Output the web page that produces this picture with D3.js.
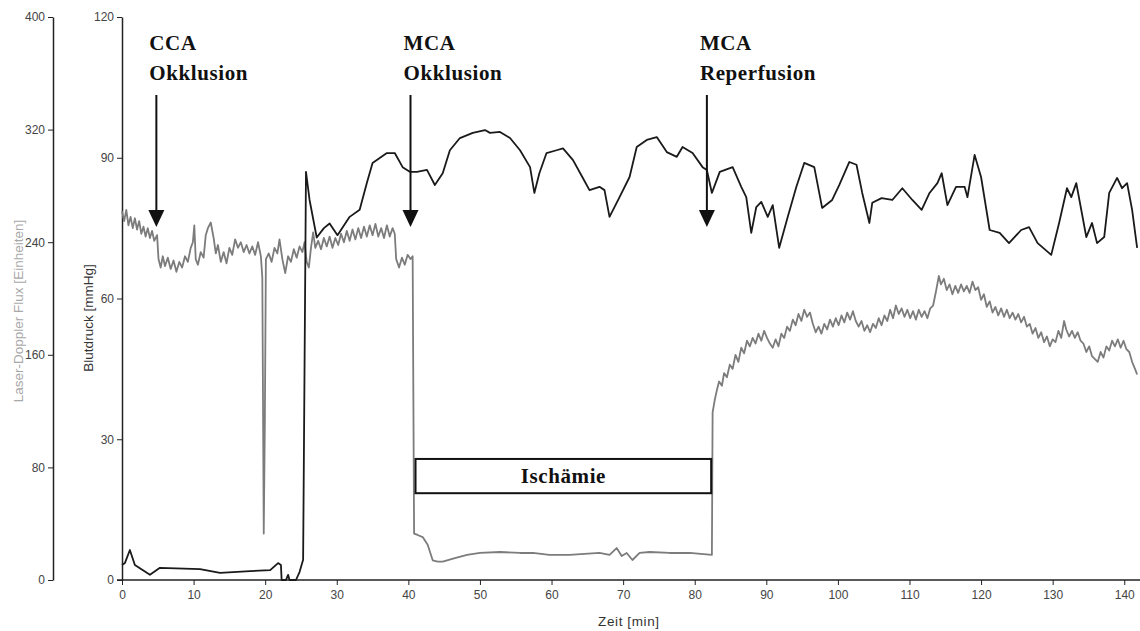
<!DOCTYPE html>
<html>
<head>
<meta charset="utf-8">
<script src="https://cdn.jsdelivr.net/npm/d3@7"></script>
<style>
  body { margin: 0; background: #fff; }
  .tick text { font-family: "Liberation Sans", Arial, sans-serif; font-size: 12px; fill: #444; }
  .anno { font-family: "Liberation Serif", "Times New Roman", serif; font-weight: bold; font-size: 21px; letter-spacing: 0.6px; fill: #111; }
  .title { font-family: "Liberation Sans", Arial, sans-serif; font-size: 13.5px; fill: #333; }
</style>
</head>
<body>
<div id="chart"></div>
<script>
const width = 1140;
const height = 631;
const margin = { top: 17, right: 0, bottom: 51, left: 122 };

// time in min, mean arterial blood pressure in mmHg (right axis)
const bpTime = [0, 0.4, 1.1, 1.8, 3.9, 5.3, 10.9, 13.7, 17.9, 20.7, 21.8, 22.2, 22.3, 22.9, 23.2, 23.4, 24.3, 24.8, 25.3,
  25.7, 26.2, 27.2, 28.2, 29.0, 30.1, 31.8, 33.2, 34.2, 35.0, 37.0, 38.1, 39.2, 40.2, 41.2, 42.6, 43.7, 44.8, 45.8, 47.2,
  49.0, 50.7, 51.4, 52.8, 54.2, 55.6, 57.0, 57.6, 58.3, 59.3, 60.7, 61.6, 63.0, 64.3, 65.3, 66.7, 67.4, 68.1, 69.5, 70.9,
  71.9, 73.3, 74.7, 76.1, 77.5, 78.3, 79.7, 81.1, 81.7, 82.4, 83.5, 85.3, 86.5, 87.2, 87.9, 88.6, 89.3, 90.2, 90.9, 91.8,
  93.0, 94.2, 95.3, 96.7, 97.8, 99.2, 100.2, 101.6, 102.6, 103.4, 104.4, 104.8, 106.1, 107.6, 109.0, 110.4, 111.7, 112.8,
  113.9, 114.5, 115.3, 116.5, 117.7, 118.1, 119.1, 120.0, 121.2, 122.6, 123.9, 125.6, 126.7, 127.9, 129.8, 130.9, 132.0,
  132.6, 133.3, 134.7, 135.5, 136.2, 137.2, 137.9, 139.0, 139.7, 140.4, 141.1, 141.8];
const bpValue = [3.2, 3.6, 6.4, 3.2, 1.1, 2.6, 2.3, 1.5, 1.9, 2.1, 3.6, 3.2, 0, 0, 1.1, 0, 0, 1.7, 4.3,
  87, 81, 73, 75, 76, 73.5, 77.4, 78.9, 84.6, 88.9, 91, 91, 88, 87, 87, 87.4, 84.2, 86.7, 91.6, 94.2,
  95.3, 95.9, 95.3, 95.5, 94.2, 91.6, 88, 82.5, 86.7, 91, 91.6, 92, 89.5, 85.9, 83.1, 83.8, 83.1, 77.4, 81.6, 85.9,
  92.3, 93.8, 94.4, 91.2, 90.2, 92.3, 91, 88, 87.4, 82.5, 87, 88, 83.8, 81.6, 74, 79.5, 80.6, 77.4, 79.9, 70.8,
  77.4, 83.8, 88.9, 88, 79.3, 81, 84.2, 89.1, 88.5, 82.5, 76.1, 80.4, 81.4, 81, 83.5, 81, 78.9, 82.5,
  84.6, 86.7, 79.9, 83.8, 83.8, 81.6, 90.6, 85.9, 74.6, 74, 71.8, 74.6, 75.2, 71.8, 69.3, 76.1, 83.5,
  81.6, 84.6, 73.1, 76.1, 71.8, 73.1, 82.5, 85.7, 83.5, 84.6, 78.9, 70.8];

// time in min, laser-Doppler flux in units (left axis)
const ldfTime = [0, 0.3, 0.6, 0.9, 1.2, 1.5, 1.8, 2.1, 2.4, 2.7, 3.0, 3.3, 3.6, 3.9, 4.2, 4.5, 4.9, 5.1, 5.4, 5.7,
  6.0, 6.4, 6.8, 7.2, 7.6, 8.0, 8.4, 8.8, 9.2, 9.6, 9.9, 10.1, 10.3, 10.6, 11.0, 11.4, 11.7, 12.0, 12.4, 12.8,
  13.1, 13.4, 13.8, 14.2, 14.6, 15.0, 15.4, 15.8, 16.2, 16.6, 17.0, 17.4, 17.8, 18.2, 18.6, 19.0, 19.4, 19.6, 19.8, 19.95,
  20.1, 20.5, 20.9, 21.3, 21.7, 22.0, 22.4, 22.8, 23.2, 23.6, 24.0, 24.4, 24.8, 25.2, 25.5, 25.8, 26.1, 26.4, 26.7, 27.0,
  27.4, 27.8, 28.2, 28.6, 29.0, 29.4, 29.8, 30.2, 30.6, 31.0, 31.4, 31.8, 32.2, 32.6, 33.0, 33.4, 33.8, 34.2, 34.6, 35.0,
  35.4, 35.8, 36.2, 36.6, 37.0, 37.4, 37.8, 38.1, 38.3, 38.7, 39.1, 39.5, 39.9, 40.3, 40.6,
  40.8, 41.3, 42.0, 42.7, 43.4, 44.1, 44.8, 46.5, 48.2, 50.0, 52.8, 55.6, 57.4, 59.7, 62.5, 66.7, 68.1, 69.1, 69.8,
  70.5, 71.3, 72.3, 73.7, 76.5, 79.3, 82.4,
  82.5, 82.8, 83.1, 83.4, 83.8, 84.1, 84.5, 84.9, 85.3, 85.7, 86.1, 86.5, 86.9, 87.3, 87.7, 88.1, 88.5, 88.9, 89.3, 89.7,
  90.1, 90.5, 90.9, 91.3, 91.7, 92.1, 92.5, 92.9, 93.3, 93.7, 94.1, 94.5, 94.9, 95.3, 95.7, 96.1, 96.5, 96.9, 97.3, 97.7,
  98.1, 98.5, 98.9, 99.3, 99.7, 100.1, 100.5, 100.9, 101.3, 101.7, 102.1, 102.5, 102.9, 103.3, 103.7, 104.1, 104.5, 104.9,
  105.3, 105.7, 106.1, 106.5, 106.9, 107.3, 107.7, 108.1, 108.5, 108.9, 109.3, 109.7, 110.1, 110.5, 110.9, 111.3, 111.7,
  112.1, 112.5, 112.9, 113.3, 113.7, 114.1, 114.4, 114.8, 115.2, 115.6, 116.0, 116.4, 116.8, 117.2, 117.6, 118.0, 118.4,
  118.8, 119.2, 119.6, 120.0, 120.4, 120.8, 121.2, 121.6, 122.0, 122.4, 122.8, 123.2, 123.6, 124.0, 124.4, 124.8, 125.2,
  125.6, 126.0, 126.4, 126.8, 127.2, 127.6, 128.0, 128.4, 128.8, 129.2, 129.6, 130.0, 130.4, 130.8, 131.2, 131.6, 131.9,
  132.3, 132.7, 133.1, 133.5, 133.9, 134.3, 134.7, 135.1, 135.5, 135.9, 136.3, 136.7, 137.1, 137.5, 137.9, 138.3, 138.7,
  139.1, 139.5, 139.9, 140.3, 140.7, 141.1, 141.5, 141.8];
const ldfValue = [262, 255, 263, 252, 258, 250, 257, 249, 255, 246, 251, 244, 250, 243, 248, 241, 245, 228, 222, 230,
  223, 229, 221, 227, 219, 226, 222, 230, 226, 236, 240, 252, 228, 224, 233, 229, 245, 250, 254, 243,
  232, 238, 226, 233, 225, 236, 231, 242, 236, 240, 233, 238, 232, 237, 231, 240, 230, 215, 33, 110,
  228, 232, 226, 236, 232, 242, 228, 218, 230, 226, 235, 229, 237, 233, 240, 226, 222, 236, 247, 236,
  241, 235, 243, 237, 244, 236, 243, 238, 246, 240, 248, 241, 249, 242, 250, 243, 251, 244, 252, 245,
  253, 244, 250, 243, 252, 244, 250, 246, 228, 222, 229, 224, 231, 228, 230,
  33, 32, 30.5, 25, 14, 13, 13, 15.6, 17.8, 19.2, 19.9, 19.2, 19.2, 17.8, 17.8, 19.2, 17.8, 22.7, 17,
  19.2, 14.2, 19.2, 19.9, 19.2, 19.2, 17.8,
  119, 128, 135, 141, 138, 147, 144, 153, 150, 160, 155, 165, 161, 170, 166, 172, 168, 175, 170, 177,
  172, 168, 165, 171, 166, 175, 172, 180, 177, 185, 181, 189, 184, 192, 187, 190, 182, 176, 180, 175,
  182, 178, 185, 180, 186, 181, 188, 183, 190, 185, 191, 184, 180, 184, 177, 181, 176, 182,
  179, 186, 181, 188, 184, 192, 186, 195, 189, 193, 187, 192, 186, 191, 185, 192, 187,
  191, 186, 193, 195, 205, 216, 210, 214, 206, 210, 203, 209, 204, 210, 205, 209, 204,
  212, 206, 208, 199, 203, 194, 198, 190, 194, 188, 193, 187, 192, 186, 190, 185, 189,
  183, 187, 180, 182, 175, 179, 172, 176, 169, 173, 166, 171, 169, 177, 172, 184, 178,
  173, 177, 172, 176, 170, 168, 162, 166, 159, 157, 155, 162, 158, 166, 163, 170, 166,
  171, 165, 170, 164, 162, 155, 150, 146];

const xTicks = d3.range(0, 141, 10);
const bpTicks = [0, 30, 60, 90, 120];
const ldfTicks = [0, 80, 160, 240, 320, 400];

const events = [
  { t: 4.8, lines: ['CCA', 'Okklusion'] },
  { t: 40.3, lines: ['MCA', 'Okklusion'] },
  { t: 81.7, lines: ['MCA', 'Reperfusion'] },
];
const ischemia = { start: 41.0, end: 82.3, top: 25.8, bottom: 18.5, label: 'Ischämie' };

const svg = d3.select('#chart')
  .append('svg')
  .attr('width', width)
  .attr('height', height);

const x = d3.scaleLinear().domain([0, 142.2]).range([margin.left, width - margin.right]);
const yBp = d3.scaleLinear().domain([0, 120]).range([height - margin.bottom, margin.top]);
const yLdf = d3.scaleLinear().domain([0, 400]).range([height - margin.bottom, margin.top]);

const xAxis = d3.axisBottom(x).tickValues(xTicks).tickSize(5).tickSizeOuter(0);
const bpAxis = d3.axisLeft(yBp).tickValues(bpTicks).tickSize(5).tickSizeOuter(0);
const ldfAxis = d3.axisLeft(yLdf).tickValues(ldfTicks).tickSize(5).tickSizeOuter(0);

function styleAxis(g) {
  g.select('.domain').attr('stroke', '#222').attr('stroke-width', 1.5);
  g.selectAll('.tick line').attr('stroke', '#222');
}

svg.append('g')
  .attr('transform', `translate(0, ${height - margin.bottom})`)
  .call(xAxis)
  .call(styleAxis)
  .call(g => g.select('.domain').attr('d', `M${margin.left - 5},0H${width}`))
  .call(g => g.selectAll('.tick text').attr('dy', '0.95em'));

svg.append('g')
  .attr('transform', `translate(${margin.left}, 0)`)
  .call(bpAxis)
  .call(styleAxis);

svg.append('g')
  .attr('transform', 'translate(53, 0)')
  .call(ldfAxis)
  .call(styleAxis);

svg.append('text')
  .attr('class', 'title')
  .attr('transform', `translate(${x(70.8)}, 626)`)
  .attr('text-anchor', 'middle')
  .style('letter-spacing', '0.6px')
  .text('Zeit [min]');

svg.append('text')
  .attr('class', 'title')
  .attr('transform', 'translate(93, 318) rotate(-90)')
  .attr('text-anchor', 'middle')
  .text('Blutdruck [mmHg]');

svg.append('text')
  .attr('class', 'title')
  .attr('transform', 'translate(23, 311) rotate(-90)')
  .attr('text-anchor', 'middle')
  .style('fill', '#a8a8a8')
  .text('Laser-Doppler Flux [Einheiten]');

const ldfLine = d3.line()
  .x(d => x(d[0]))
  .y(d => yLdf(d[1]));

const bpLine = d3.line()
  .x(d => x(d[0]))
  .y(d => yBp(d[1]));

svg.append('path')
  .datum(d3.zip(ldfTime, ldfValue))
  .attr('fill', 'none')
  .attr('stroke', '#7c7c7c')
  .attr('stroke-width', 1.8)
  .attr('stroke-linejoin', 'round')
  .attr('d', ldfLine);

svg.append('path')
  .datum(d3.zip(bpTime, bpValue))
  .attr('fill', 'none')
  .attr('stroke', '#1a1a1a')
  .attr('stroke-width', 1.8)
  .attr('stroke-linejoin', 'round')
  .attr('d', bpLine);

// event arrows
const ev = svg.selectAll('.event')
  .data(events)
  .enter()
  .append('g')
  .attr('class', 'event');

ev.append('text')
  .attr('class', 'anno')
  .attr('x', d => x(d.t) - 7)
  .attr('y', 50)
  .text(d => d.lines[0]);

ev.append('text')
  .attr('class', 'anno')
  .attr('x', d => x(d.t) - 7)
  .attr('y', 80)
  .text(d => d.lines[1]);

ev.append('line')
  .attr('x1', d => x(d.t))
  .attr('x2', d => x(d.t))
  .attr('y1', 95)
  .attr('y2', 212)
  .attr('stroke', '#111')
  .attr('stroke-width', 2);

ev.append('path')
  .attr('d', d => `M${x(d.t) - 8},210L${x(d.t) + 8},210L${x(d.t)},227Z`)
  .attr('fill', '#111');

// ischemia box
svg.append('rect')
  .attr('x', x(ischemia.start))
  .attr('y', yBp(ischemia.top))
  .attr('width', x(ischemia.end) - x(ischemia.start))
  .attr('height', yBp(ischemia.bottom) - yBp(ischemia.top))
  .attr('fill', '#fff')
  .attr('stroke', '#111')
  .attr('stroke-width', 2);

svg.append('text')
  .attr('class', 'anno')
  .attr('x', x((ischemia.start + ischemia.end) / 2))
  .attr('y', (yBp(ischemia.top) + yBp(ischemia.bottom)) / 2 + 7)
  .attr('text-anchor', 'middle')
  .text(ischemia.label);
</script>
</body>
</html>
